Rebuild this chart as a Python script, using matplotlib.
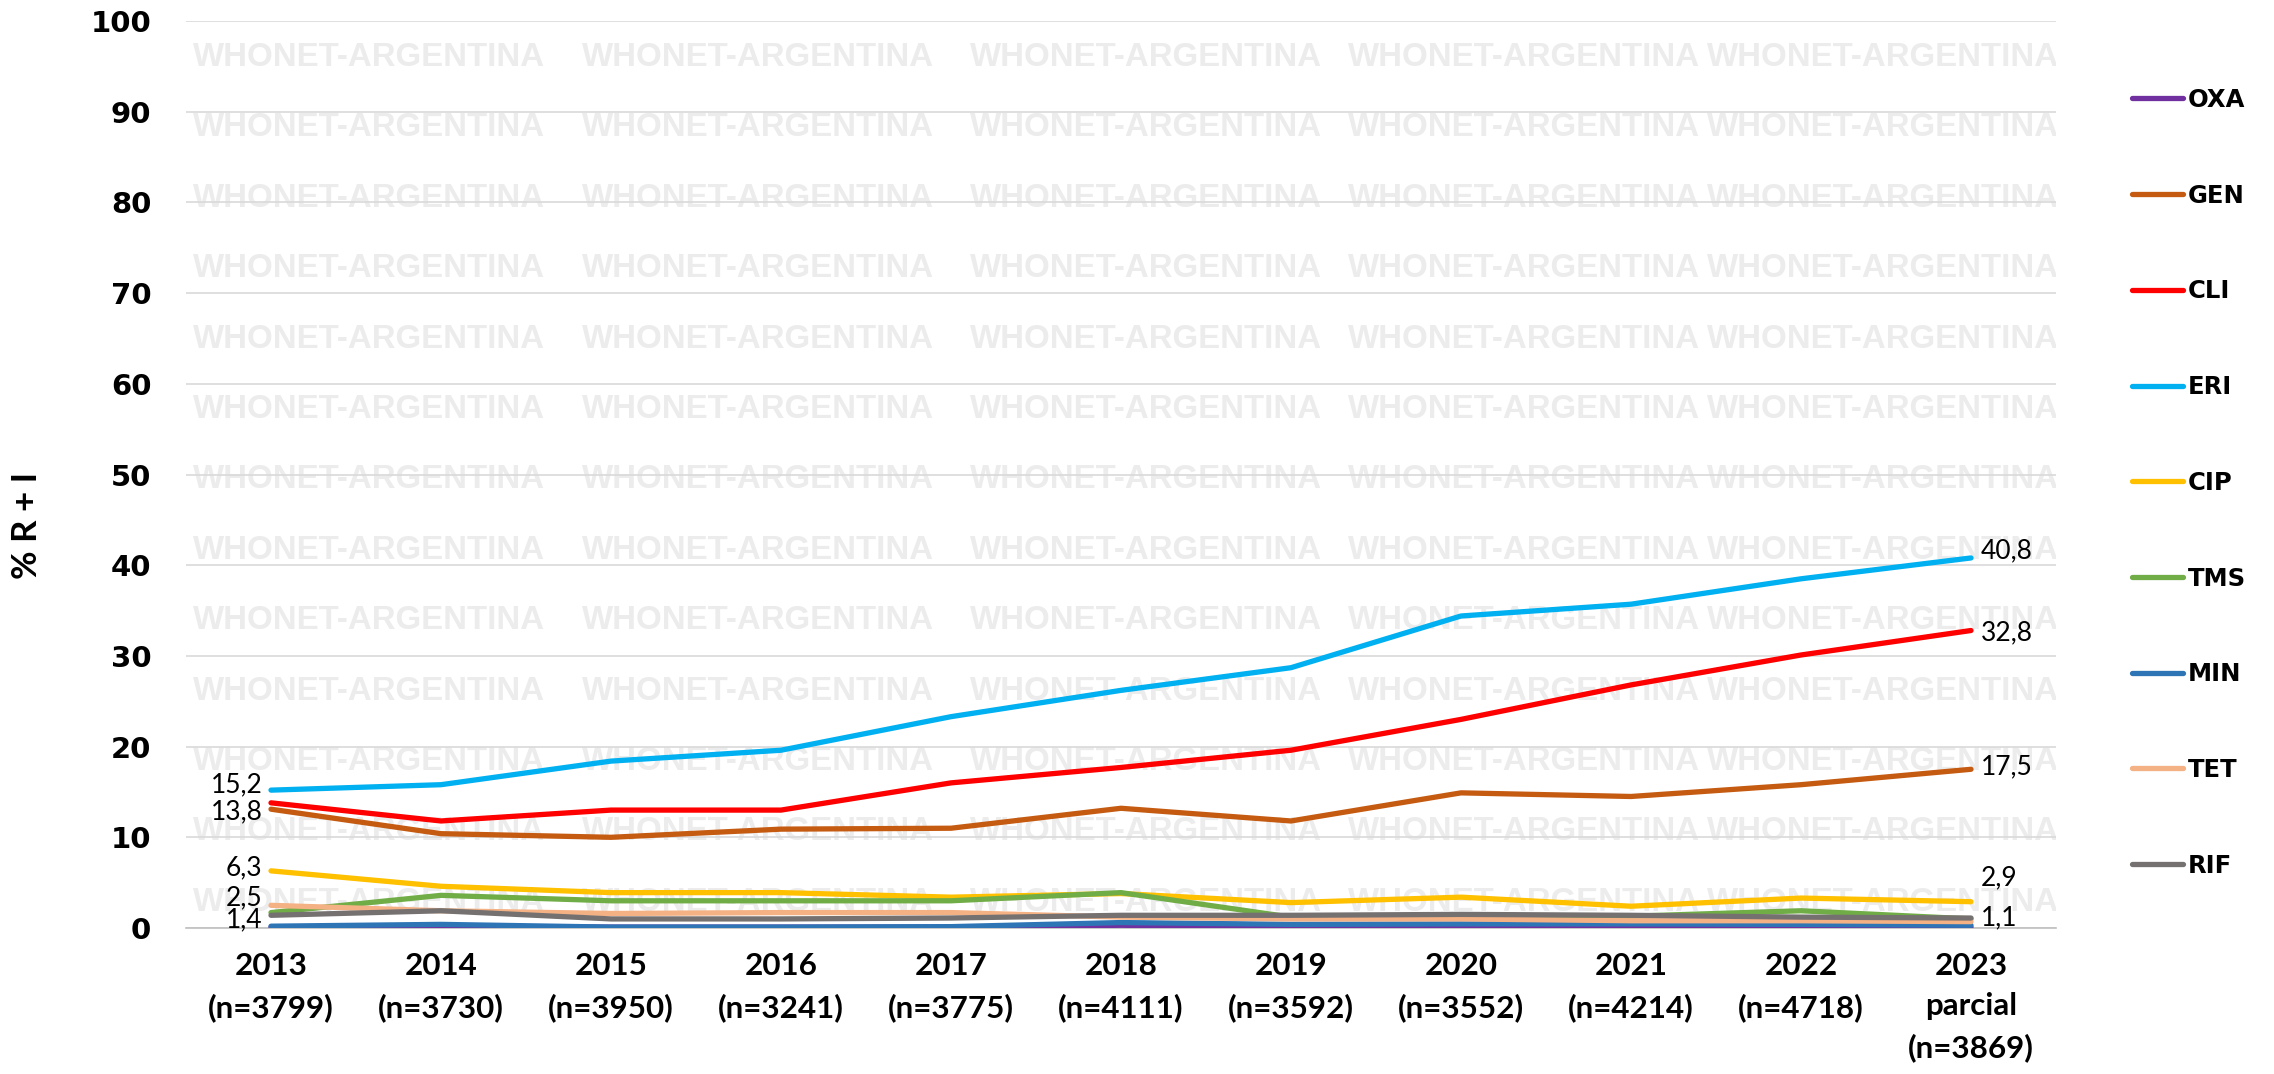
import matplotlib
matplotlib.use("Agg")
import matplotlib.pyplot as plt

categories = ["2013\n(n=3799)", "2014\n(n=3730)", "2015\n(n=3950)", "2016\n(n=3241)",
              "2017\n(n=3775)", "2018\n(n=4111)", "2019\n(n=3592)", "2020\n(n=3552)",
              "2021\n(n=4214)", "2022\n(n=4718)", "2023\nparcial\n(n=3869)"]

OXA = [0.1, 0.2, 0.1, 0.1, 0.1, 0.3, 0.1, 0.1, 0.1, 0.1, 0.1]
GEN = [13.1, 10.4, 10.0, 10.9, 11.0, 13.2, 11.8, 14.9, 14.5, 15.8, 17.5]
CLI = [13.8, 11.8, 13.0, 13.0, 16.0, 17.7, 19.6, 23.0, 26.8, 30.1, 32.8]
ERI = [15.2, 15.8, 18.4, 19.6, 23.3, 26.2, 28.7, 34.4, 35.7, 38.5, 40.8]
CIP = [6.3, 4.6, 3.9, 3.9, 3.4, 3.8, 2.8, 3.4, 2.4, 3.3, 2.9]
TMS = [1.7, 3.6, 3.0, 3.0, 3.0, 3.9, 1.2, 1.4, 1.3, 1.9, 1.0]
MIN = [0.2, 0.4, 0.1, 0.1, 0.15, 0.6, 0.4, 0.45, 0.45, 0.4, 0.3]
TET = [2.5, 1.9, 1.6, 1.7, 1.7, 1.2, 1.0, 1.0, 0.8, 0.8, 0.7]
RIF = [1.4, 1.9, 1.0, 1.0, 1.1, 1.4, 1.4, 1.5, 1.4, 1.2, 1.1]

series_names = ["OXA", "GEN", "CLI", "ERI", "CIP", "TMS", "MIN", "TET", "RIF"]
series_values = [OXA, GEN, CLI, ERI, CIP, TMS, MIN, TET, RIF]
colors = ["#7030A0", "#C55A11", "#FF0000", "#00B0F0", "#FFC000",
          "#70AD47", "#2E75B6", "#F4B183", "#767171"]

yticks = [0, 10, 20, 30, 40, 50, 60, 70, 80, 90, 100]

# labelled series at first / last year; value = vertical nudge in pixels (+ = down)
first_labels = {"ERI": -5, "CLI": 9, "CIP": -3, "TET": -8, "RIF": 5}
last_labels = {"ERI": -7, "CLI": 2, "GEN": -2, "CIP": -24, "RIF": 0}

W, H = 2274, 1074
fig = plt.figure(figsize=(W / 100, H / 100), dpi=100)
L, R, T, B = 186, 2056, 21, 928
ax = fig.add_axes([L / W, 1 - B / H, (R - L) / W, (B - T) / H])

# watermark (background decoration)
wm_cols = [193, 582, 970, 1348, 1707]
for k in range(13):
    ybase = 55 + 70.4 * k + 11
    for xc in wm_cols:
        ax.text((xc - L) / (R - L), (B - ybase) / (B - T), "WHONET-ARGENTINA",
                transform=ax.transAxes, ha="left", va="baseline",
                fontsize=23.8, fontweight="bold", family="Liberation Sans",
                color="#ECECEC", zorder=0, clip_on=True)

x = list(range(len(categories)))
for name, vals, c in zip(series_names, series_values, colors):
    ax.plot(x, vals, color=c, lw=3.8, label=name, solid_capstyle="round",
            solid_joinstyle="round", zorder=3)

def fmt(v):
    return f"{v:.1f}".replace(".", ",")

for name, dy in first_labels.items():
    v = series_values[series_names.index(name)][0]
    ax.annotate(fmt(v), xy=(0, v), xytext=(-6, -dy * 0.72), textcoords="offset points",
                ha="right", va="center", fontsize=19, family="Lato",
                color="black", zorder=5)
for name, dy in last_labels.items():
    v = series_values[series_names.index(name)][-1]
    ax.annotate(fmt(v), xy=(10, v), xytext=(7, -dy * 0.72), textcoords="offset points",
                ha="left", va="center", fontsize=19, family="Lato",
                color="black", zorder=5)

ax.set_xlim(-0.5, 10.5)
ax.set_ylim(0, 100)
ax.set_yticks(yticks)
ax.set_yticklabels([str(t) for t in yticks], fontsize=21, fontweight="bold",
                   family="DejaVu Sans")
ax.set_xticks(x)
ax.set_xticklabels(categories, fontsize=22.6, fontweight="bold", family="Lato",
                   linespacing=1.55)
ax.tick_params(axis="y", length=0, pad=25)
ax.tick_params(axis="x", length=0, pad=17)
ax.grid(axis="y", color="#D9D9D9", lw=1.2, zorder=1)
ax.set_axisbelow(True)
for s in ["top", "right", "left"]:
    ax.spines[s].set_visible(False)
ax.spines["bottom"].set_color("#BFBFBF")
ax.spines["bottom"].set_linewidth(1.2)

ax.set_ylabel("% R + I", fontsize=25, fontweight="bold", family="Lato")
ax.yaxis.set_label_coords((43 - L) / (R - L), (B - 525) / (B - T))

fig.legend(loc="upper left", bbox_to_anchor=(2132 / W, 1 - 88 / H), frameon=False,
           prop={"family": "DejaVu Sans", "weight": "bold", "size": 17.5},
           handlelength=2.1, handletextpad=0.2, labelspacing=2.95,
           borderpad=0, borderaxespad=0)

fig.savefig("out.png", dpi=100)
